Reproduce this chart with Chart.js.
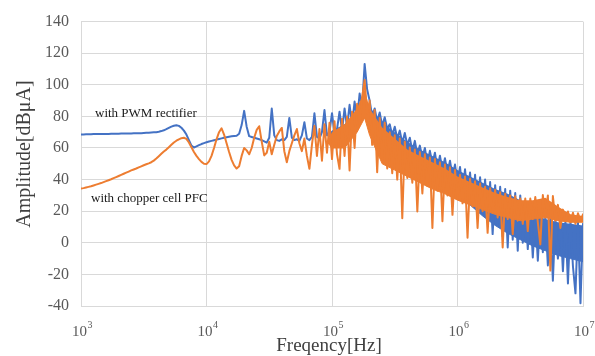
<!DOCTYPE html>
<html>
<head>
<meta charset="utf-8">
<script src="https://cdn.jsdelivr.net/npm/chart.js@4.4.1/dist/chart.umd.min.js"></script>
<style>
html,body{margin:0;padding:0;background:#fff;}
canvas{display:block;}
</style>
</head>
<body>
<canvas id="c" width="595" height="356"></canvas>
<script>
// Frequency grid as decade exponents (f = 10^e Hz)
const freqExp = [
3.00,3.02,3.04,3.06,3.08,3.10,3.12,3.14,3.16,3.18,
3.20,3.22,3.24,3.26,3.28,3.30,3.32,3.34,3.36,3.38,
3.40,3.42,3.44,3.46,3.48,3.50,3.52,3.54,3.56,3.58,
3.60,3.62,3.64,3.66,3.68,3.70,3.72,3.74,3.76,3.78,
3.80,3.82,3.84,3.86,3.88,3.90,3.92,3.94,3.96,3.98,
4.00,4.02,4.04,4.06,4.08,4.10,4.12,4.14,4.16,4.18,
4.20,4.22,4.24,4.26,4.28,4.30,4.32,4.34,4.36,4.38,
4.40,4.42,4.44,4.46,4.48,4.50,4.52,4.54,4.56,4.58,
4.60,4.62,4.64,4.66,4.68,4.70,4.72,4.74,4.76,4.78,
4.80,4.82,4.84,4.86,4.88,4.90,4.92,4.94,4.96,4.98,
5.00,5.02,5.04,5.06,5.08,5.10,5.12,5.14,5.16,5.18,
5.20,5.22,5.24,5.26,5.28,5.30,5.32,5.34,5.36,5.38,
5.40,5.42,5.44,5.46,5.48,5.50,5.52,5.54,5.56,5.58,
5.60,5.62,5.64,5.66,5.68,5.70,5.72,5.74,5.76,5.78,
5.80,5.82,5.84,5.86,5.88,5.90,5.92,5.94,5.96,5.98,
6.00,6.02,6.04,6.06,6.08,6.10,6.12,6.14,6.16,6.18,
6.20,6.22,6.24,6.26,6.28,6.30,6.32,6.34,6.36,6.38,
6.40,6.42,6.44,6.46,6.48,6.50,6.52,6.54,6.56,6.58,
6.60,6.62,6.64,6.66,6.68,6.70,6.72,6.74,6.76,6.78,
6.80,6.82,6.84,6.86,6.88,6.90,6.92,6.94,6.96,6.98,
7.00];

// with PWM rectifier [dBuA]
const pwmValues = [
68.6,68.6,68.7,68.7,68.7,68.8,68.8,68.8,68.8,68.9,
68.9,68.9,69.0,69.0,69.0,69.0,69.1,69.1,69.1,69.2,
69.2,69.3,69.3,69.4,69.4,69.5,69.6,69.7,69.8,69.9,
70.0,70.3,70.7,71.2,71.9,72.7,73.5,74.1,74.4,74.0,
72.8,71.0,68.5,65.0,61.5,60.3,61.0,61.8,62.5,63.1,
63.6,64.1,64.5,64.9,65.3,65.7,66.1,66.5,66.8,67.1,
67.4,67.6,67.8,69.0,74.5,83.5,73.5,67.5,67.0,66.5,
66.0,65.5,65.0,64.2,63.4,66.5,85.0,68.0,65.0,64.5,
65.5,65.0,67.0,79.0,66.5,65.0,65.5,64.5,68.0,76.3,
66.0,65.0,67.0,82.0,67.0,66.0,70.0,84.0,68.0,70.0,
82.0,69.0,72.0,83.0,71.0,85.0,73.0,87.3,75.0,89.4,
78.0,94.5,86.0,113.2,97.0,90.0,80.0,85.0,77.0,82.5,
74.0,79.5,72.0,75.0,68.0,73.5,66.0,71.0,63.0,69.5,
62.0,66.5,58.0,64.5,56.0,61.5,54.0,60.0,50.0,58.2,
50.0,57.0,47.0,55.1,46.0,53.5,44.0,52.0,42.0,49.5,
38.0,48.0,33.0,46.5,30.0,44.5,24.0,43.0,15.6,41.5,
20.0,40.0,14.0,38.5,5.5,36.5,12.0,35.5,4.0,34.0,
-3.0,33.0,2.0,31.5,-5.0,30.0,0.0,24.0,-4.0,21.0,
-9.3,19.0,-11.3,17.5,-6.0,16.5,-14.4,16.0,-24.0,15.0,
-10.0,15.0,-18.0,14.0,-25.8,14.0,-15.0,-32.0,13.0,-38.3,
12.0];

// with chopper cell PFC [dBuA]
const pfcValues = [
34.3,34.6,35.0,35.4,35.8,36.3,36.8,37.3,37.8,38.4,
39.0,39.6,40.2,40.9,41.6,42.3,43.0,43.7,44.4,45.1,
45.8,46.4,47.0,47.7,48.4,49.1,49.7,50.3,51.0,52.0,
53.3,54.8,56.3,57.8,59.0,60.5,62.0,63.5,64.6,65.5,
66.2,66.5,65.8,63.5,60.5,57.5,55.0,53.0,51.2,50.0,
49.8,51.5,55.0,60.0,65.5,70.0,72.5,68.5,63.0,57.5,
52.5,49.0,47.0,48.5,55.0,60.0,58.5,56.0,60.0,66.5,
71.5,73.8,64.0,55.3,57.0,64.0,56.0,62.0,67.6,70.5,
72.7,58.0,51.0,58.0,63.0,68.0,72.0,63.0,58.0,66.0,
55.0,46.8,62.0,74.0,55.0,72.0,52.0,75.0,57.0,76.0,
53.0,77.0,56.0,46.8,78.5,55.0,80.0,45.8,83.0,60.0,
88.0,75.0,92.0,103.0,82.0,90.0,62.0,84.0,44.7,79.0,
52.0,76.0,47.0,70.0,44.0,68.0,40.0,66.0,15.6,64.0,
41.0,60.3,38.0,59.0,19.8,57.5,31.2,56.0,36.0,54.0,
9.4,53.0,33.0,51.0,13.6,49.5,30.0,47.8,17.7,46.0,
28.0,43.0,25.0,42.0,3.2,40.5,23.0,39.0,9.4,37.5,
20.0,35.5,6.3,34.5,19.0,33.5,16.0,32.0,-3.0,31.0,
15.0,30.0,5.5,29.5,14.0,28.1,12.0,28.0,7.4,28.0,
15.0,29.0,13.0,-1.0,30.2,16.0,30.0,-17.6,29.6,14.0,
24.0,9.4,21.0,14.0,19.8,13.0,19.0,12.0,18.7,14.0,
18.0];

// Dense-harmonic band (solid part of each trace)
const bandExp = [4.96,5.00,5.10,5.20,5.26,5.30,5.40,5.50,5.60,5.70,5.80,5.90,6.00,6.10,6.20,6.30,6.40,6.50,6.60,6.70,6.80,6.90,7.00];
const pwmBandHigh = [68,71,75,81,90,86,76,70,64,59,55,51,46,42,38,34,31,27,18,15,13,12,11];
const pwmBandLow  = [68,66,68,72,80,74,62,56,50,45,40,36,30,24,17,11,6,2,-2,-5,-8,-10,-12];
const pfcBandHigh = [64,70,75,85,97,85,73,66,59,55,51,47,42,38.5,35,31.5,29,27,27,28.5,23,18,17];
const pfcBandLow  = [64,60,60,70,79,68,50,46,42,38,34,31,27,24,21,18,16,14,15,16,14,13,13];

const yTicks = [-40,-20,0,20,40,60,80,100,120,140];
const xTickExp = [3,4,5,6,7];
const seriesNames = ['with PWM rectifier','with chopper cell PFC'];

const BLUE = '#4472C4';
const ORANGE = '#ED7D31';

const freqs = freqExp.map(e => Math.pow(10, e));
const bandFreqs = bandExp.map(e => Math.pow(10, e));
const toPts = vals => vals.map((v,i) => ({x: freqs[i], y: v}));
const toBandPts = vals => vals.map((v,i) => ({x: bandFreqs[i], y: v}));

const SERIF = "'Liberation Serif','DejaVu Serif','Times New Roman',serif";
const GRID = '#d9d9d9';

const textPlugin = {
  id: 'texts',
  afterDraw(chart) {
    const ctx = chart.ctx;
    const xs = chart.scales.x;
    ctx.save();
    ctx.fillStyle = '#595959';
    xTickExp.forEach(n => {
      const px = xs.getPixelForValue(Math.pow(10, n));
      ctx.font = '15px ' + SERIF;
      const w1 = ctx.measureText('10').width;
      ctx.font = '10px ' + SERIF;
      const w2 = ctx.measureText(String(n)).width;
      const start = px - (w1 + w2) / 2 + 1;
      ctx.textAlign = 'left';
      ctx.textBaseline = 'alphabetic';
      ctx.font = '15px ' + SERIF;
      ctx.fillText('10', start, 336);
      ctx.font = '10px ' + SERIF;
      ctx.fillText(String(n), start + w1 + 0.5, 328);
    });
    ctx.fillStyle = '#404040';
    ctx.font = '19px ' + SERIF;
    ctx.textAlign = 'center';
    ctx.textBaseline = 'alphabetic';
    ctx.fillText('Freqency[Hz]', 329, 351);
    ctx.save();
    ctx.translate(30, 154);
    ctx.rotate(-Math.PI / 2);
    ctx.font = '20px ' + SERIF;
    ctx.fillText('Amplitude[dB\u03BCA]', 0, 0);
    ctx.restore();
    ctx.fillStyle = '#1a1a1a';
    ctx.font = '13px ' + SERIF;
    ctx.textAlign = 'left';
    ctx.fillText(seriesNames[0], 95, 117);
    ctx.fillText(seriesNames[1], 91, 202);
    ctx.restore();
  }
};

const lineDs = (label, vals, color, order) => ({
  label, data: toPts(vals), borderColor: color, borderWidth: 2,
  pointRadius: 0, tension: 0, borderJoinStyle: 'round', borderCapStyle: 'round',
  fill: false, order
});
const bandEdge = (vals, order) => ({
  data: toBandPts(vals), borderColor: 'rgba(0,0,0,0)', borderWidth: 1,
  pointRadius: 0, tension: 0, fill: false, order
});
const bandFill = (vals, target, color, order) => ({
  data: toBandPts(vals), borderColor: color, borderWidth: 1,
  backgroundColor: color, pointRadius: 0, tension: 0,
  fill: target, order
});

new Chart(document.getElementById('c'), {
  type: 'line',
  data: {
    datasets: [
      bandEdge(pwmBandHigh, 6),
      bandFill(pwmBandLow, 0, BLUE, 5),
      lineDs(seriesNames[0], pwmValues, BLUE, 4),
      bandEdge(pfcBandHigh, 6),
      bandFill(pfcBandLow, 3, ORANGE, 2),
      lineDs(seriesNames[1], pfcValues, ORANGE, 1)
    ]
  },
  options: {
    responsive: false,
    animation: false,
    devicePixelRatio: 1,
    layout: { padding: { top: 17, right: 12, left: 0, bottom: 0 } },
    plugins: { legend: { display: false }, tooltip: { enabled: false } },
    scales: {
      x: {
        type: 'logarithmic',
        min: 1000,
        max: 10000000,
        afterBuildTicks(scale) {
          scale.ticks = xTickExp.map(n => ({ value: Math.pow(10, n) }));
        },
        afterFit(scale) { scale.height = 50; },
        ticks: { display: false },
        grid: { color: GRID, lineWidth: 1, drawTicks: false },
        border: { display: true, color: GRID }
      },
      y: {
        min: -40,
        max: 140,
        afterBuildTicks(scale) {
          scale.ticks = yTicks.map(v => ({ value: v }));
        },
        afterFit(scale) { scale.width = 81; },
        ticks: {
          padding: 12,
          color: '#595959',
          font: { family: SERIF, size: 16 }
        },
        grid: { color: GRID, lineWidth: 1, drawTicks: false },
        border: { display: true, color: GRID }
      }
    }
  },
  plugins: [textPlugin]
});
</script>
</body>
</html>
